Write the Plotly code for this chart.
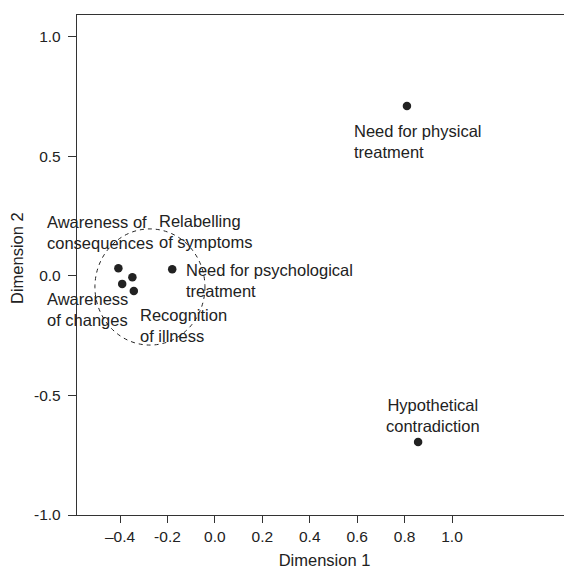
import plotly.graph_objects as go

# ---- data ----
labels = [
    "Need for physical<br>treatment",
    "Hypothetical<br>contradiction",
    "Need for psychological<br>treatment",
    "Awareness of<br>consequences",
    "Relabelling<br>of symptoms",
    "Awareness<br>of changes",
    "Recognition<br>of illness",
]
dim1 = [0.810, 0.857, -0.180, -0.407, -0.348, -0.391, -0.342]
dim2 = [0.711, -0.695, 0.028, 0.032, -0.005, -0.033, -0.063]

x_ticks = [-0.4, -0.2, 0.0, 0.2, 0.4, 0.6, 0.8, 1.0]
x_tick_text = ["–0.4", "-0.2", "0.0", "0.2", "0.4", "0.6", "0.8", "1.0"]
y_ticks = [-1.0, -0.5, 0.0, 0.5, 1.0]
y_tick_text = ["-1.0", "-0.5", "0.0", "0.5", "1.0"]

cluster_center = (-0.274, -0.046)
cluster_radius = (0.232, 0.243)

# ---- label placement (pixel offsets from each point) ----
label_style = [
    dict(xanchor="left", align="left", xshift=-52.7, yshift=-35),
    dict(xanchor="center", align="center", xshift=14.7, yshift=27),
    dict(xanchor="left", align="left", xshift=13.4, yshift=-10.7),
    dict(xanchor="left", align="left", xshift=-71.6, yshift=36.3),
    dict(xanchor="left", align="left", xshift=26.5, yshift=45.3),
    dict(xanchor="left", align="left", xshift=-75.6, yshift=-25.7),
    dict(xanchor="left", align="left", xshift=6.3, yshift=-34.9),
]

FONT = "Liberation Sans, Arial, sans-serif"
INK = "#222222"

fig = go.Figure()
fig.add_trace(go.Scatter(
    x=dim1, y=dim2, mode="markers",
    marker=dict(size=8.5, color=INK),
    hoverinfo="skip", showlegend=False,
))

annotations = []
for xv, yv, txt, st in zip(dim1, dim2, labels, label_style):
    annotations.append(dict(
        x=xv, y=yv, xref="x", yref="y", text=txt, showarrow=False,
        yanchor="middle", borderpad=0, borderwidth=0,
        font=dict(family=FONT, size=16.5, color=INK), **st,
    ))

annotations.append(dict(
    x=-0.1212, y=0.514, xref="paper", yref="paper", text="Dimension 2",
    showarrow=False, textangle=-90, xanchor="center", yanchor="middle", xshift=0,
    font=dict(family=FONT, size=16.5, color=INK),
))

fig.add_shape(
    type="circle", xref="x", yref="y",
    x0=cluster_center[0] - cluster_radius[0], x1=cluster_center[0] + cluster_radius[0],
    y0=cluster_center[1] - cluster_radius[1], y1=cluster_center[1] + cluster_radius[1],
    line=dict(color=INK, width=1, dash="4px,4px"),
)

# the page body adds an 8px margin, so the figure is 8px smaller than the window
fig.update_layout(
    width=564, height=561,
    margin=dict(l=69, r=0, t=7, b=54, autoexpand=False),
    paper_bgcolor="white", plot_bgcolor="white",
    font=dict(family=FONT, color=INK),
    annotations=annotations,
    xaxis=dict(
        range=[-0.5816, 1.5061], tickvals=x_ticks, ticktext=x_tick_text,
        showgrid=False, zeroline=False, showline=True, mirror=True,
        linecolor="#333333", linewidth=1.3,
        ticks="outside", ticklen=7, tickcolor="#333333", tickwidth=1,
        tickfont=dict(family=FONT, size=15.5, color=INK),
        title=dict(text="Dimension 1", font=dict(family=FONT, size=16.5, color=INK), standoff=11),
        automargin=False,
    ),
    yaxis=dict(
        range=[-1.0, 1.092], tickvals=y_ticks, ticktext=y_tick_text,
        showgrid=False, zeroline=False, showline=True,
        linecolor="#333333", linewidth=1.3,
        ticks="outside", ticklen=8, tickcolor="#333333", tickwidth=1,
        ticklabelstandoff=4,
        tickfont=dict(family=FONT, size=15.5, color=INK),
        automargin=False,
    ),
)

fig.write_html("out.html")
